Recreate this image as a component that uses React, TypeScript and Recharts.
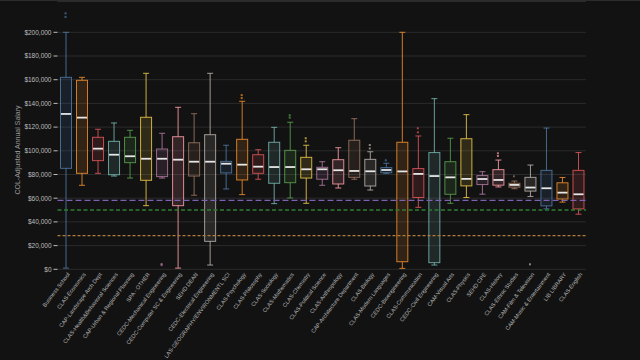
import React from 'react';
import { ComposedChart, Bar, Scatter, XAxis, YAxis, CartesianGrid, ReferenceLine } from 'recharts';

const categories = [
  'Business School',
  'CLAS-Economics',
  'CAP-Landscape Arch Dept',
  'CLAS-Health&Behavioral Sciences',
  'CAP-Urban & Regional Planning',
  'SPA - OTHER',
  'CEDC-Mechanical Engineering',
  'CEDC-Computer SC & Engineering',
  'SEHD DEAN',
  'CEDC-Electrical Engineering',
  'LAS-GEOGRAPHY/ENVIRONMENTL SCI',
  'CLAS-Psychology',
  'CLAS-Philosophy',
  'CLAS-Sociology',
  'CLAS-Mathematics',
  'CLAS-Chemistry',
  'CLAS-Political Science',
  'CLAS-Anthropology',
  'CAP-Architecture Department',
  'CLAS-Biology',
  'CLAS-Modern Languages',
  'CEDC-Bioengineering',
  'CLAS-Communication',
  'CEDC-Civil Engineering',
  'CAM-Visual Arts',
  'CLAS-Physics',
  'SEHD CPE',
  'CLAS-History',
  'CLAS-Ethnic Studies',
  'CAM-Film & Television',
  'CAM-Music & Entertainment',
  'LIB LIBRARY',
  'CLAS-English',
];

const whiskerLow = [1000, 70900, 81000, 78700, 77000, 53700, 77000, 1000, 62500, 3600, 67800, 63000, 76000, 55400, 60200, 55700, 70900, 68600, 76000, 66900, 81000, 800, 52300, 3600, 55700, 60600, 63400, 69500, 68000, 61500, 51000, 56700, 46500];
const q1 = [85200, 81000, 91700, 79800, 90000, 75100, 78200, 53700, 78700, 23600, 81300, 75400, 81000, 72600, 73100, 77000, 76000, 72000, 77600, 70300, 81500, 6400, 60600, 5600, 63300, 70400, 71500, 71000, 69300, 66000, 53500, 59300, 51000];
const median = [131100, 128000, 101800, 96700, 95400, 93300, 93300, 92500, 90800, 90800, 89100, 88300, 86600, 86300, 86300, 84400, 84400, 83600, 83000, 82700, 83800, 82600, 80500, 78700, 77600, 76300, 76200, 75400, 71200, 69000, 68400, 64700, 63300];
const q3 = [162000, 159500, 111400, 108000, 111400, 128300, 101500, 111900, 106800, 113600, 91100, 109700, 96700, 107200, 100400, 94500, 86100, 92500, 108900, 92800, 85800, 107200, 85000, 98500, 90800, 110200, 79100, 84100, 72600, 77600, 83500, 73000, 83500];
const whiskerHigh = [200000, 162000, 118200, 123500, 117300, 165400, 114800, 136700, 131300, 165400, 104700, 141800, 100900, 119800, 124100, 104700, 90800, 102600, 127100, 99200, 89500, 200000, 112500, 144000, 110600, 130500, 82400, 92200, 74500, 88000, 119200, 77500, 98500];
const outlierA: (number | null)[] = [216000, null, null, null, null, null, 4500, null, null, null, null, 147000, null, null, 130000, 110600, null, null, null, 104900, 92000, null, 119000, null, null, null, null, 97900, 78500, 4200, null, null, null];
const outlierB: (number | null)[] = [213000, null, null, null, null, null, 3500, null, null, null, null, 144500, null, null, 128000, 108000, null, null, null, 102000, null, null, 115600, null, null, null, null, 95600, null, null, null, null, null];

const yTicks = [0, 20000, 40000, 60000, 80000, 100000, 120000, 140000, 160000, 180000, 200000];
const referenceValues = [58200, 50000, 28400];

const palette = ['#4e79a7', '#f28e2b', '#e15759', '#76b7b2', '#59a14f', '#edc948', '#b07aa1', '#ff9da7', '#9c755f', '#bab0ac'];
const refStyles = [
  { stroke: '#7d62b3', dash: '6 3', w: 1.2 },
  { stroke: '#2f7d32', dash: '4 2.5', w: 1.5 },
  { stroke: '#b07d3c', dash: '3 2', w: 1.1 },
];

const data = categories.map((name, i) => ({
  name,
  range: [whiskerLow[i], whiskerHigh[i]],
  low: whiskerLow[i],
  q1: q1[i],
  median: median[i],
  q3: q3[i],
  high: whiskerHigh[i],
  outA: outlierA[i],
  outB: outlierB[i],
}));

const FONT = '"Liberation Sans", Arial, sans-serif';

const BoxShape = (props: any) => {
  const { x, y, width, height, payload, index } = props;
  if (!payload || x == null || y == null) return null;
  const color = palette[index % palette.length];
  const { low, q1: a, median: m, q3: b, high } = payload;
  const top = Math.min(y, y + height);
  const h = Math.abs(height);
  const pix = (v: number) => top + (h * (high - v)) / (high - low);
  const cx = x + width / 2;
  const cap = 3;
  return (
    <g>
      <line x1={cx} x2={cx} y1={pix(high)} y2={pix(b)} stroke={color} strokeOpacity={0.85} strokeWidth={1} />
      <line x1={cx} x2={cx} y1={pix(a)} y2={pix(low)} stroke={color} strokeOpacity={0.85} strokeWidth={1} />
      <line x1={cx - cap} x2={cx + cap} y1={pix(high)} y2={pix(high)} stroke={color} strokeOpacity={0.85} strokeWidth={1} />
      <line x1={cx - cap} x2={cx + cap} y1={pix(low)} y2={pix(low)} stroke={color} strokeOpacity={0.85} strokeWidth={1} />
      <rect x={x} y={pix(b)} width={width} height={Math.max(pix(a) - pix(b), 0.5)} fill={color} fillOpacity={0.14} stroke={color} strokeOpacity={0.85} strokeWidth={1} />
      <line x1={x + 0.5} x2={x + width - 0.5} y1={pix(m)} y2={pix(m)} stroke="#e6e6e6" strokeWidth={1.8} />
    </g>
  );
};

const makeDot = (key: string) => (props: any) => {
  const { cx, cy, payload, index } = props;
  if (!payload || payload[key] == null || !isFinite(cy)) return null;
  const color = palette[(index ?? categories.indexOf(payload.name)) % palette.length];
  return <rect x={cx - 1} y={cy - 1} width={2} height={2} fill={color} fillOpacity={0.7} />;
};

const XTick = (props: any) => {
  const { x, y, payload } = props;
  return (
    <g transform={`translate(${x + 3},${y + 4})`}>
      <text textAnchor="end" transform="rotate(-53)" fontSize={5.6} fill="#b8b8b8" fontFamily={FONT} dy="0.35em">
        {payload.value}
      </text>
    </g>
  );
};

const formatMoney = (v: number) => '$' + v.toLocaleString('en-US');

export default function App() {
  return (
    <div style={{ position: 'absolute', left: 0, top: 0, width: 640, height: 360, background: '#121212', overflow: 'hidden' }}>
      <div style={{ position: 'absolute', left: 0, top: 0, width: 640, height: 1, background: '#2c2c2c' }} />
      <ComposedChart
        width={640}
        height={360}
        data={data}
        margin={{ top: 1.5, right: 54, bottom: 0, left: 0 }}
        barCategoryGap={0}
      >
        <CartesianGrid vertical={false} stroke="#2b2b2b" strokeWidth={1} />
        <XAxis
          dataKey="name"
          type="category"
          interval={0}
          height={90.7}
          tickLine={false}
          axisLine={false}
          tickSize={0}
          tickMargin={0}
          tick={<XTick />}
        />
        <YAxis
          type="number"
          domain={[0, 226000]}
          ticks={yTicks}
          width={57.5}
          axisLine={false}
          tickSize={4}
          tickMargin={2}
          tickLine={{ stroke: '#bdbdbd' }}
          tickFormatter={formatMoney}
          tick={{ fontSize: 6.5, fill: '#bdbdbd', fontFamily: FONT }}
          label={{
            content: () => (
              <text x={20} y={150} transform="rotate(-90 20 150)" textAnchor="middle" fontSize={7} fill="#9a9a9a" fontFamily={FONT}>
                COL-Adjusted Annual Salary
              </text>
            ),
          }}
        />
        {referenceValues.map((v, i) => (
          <ReferenceLine key={v} y={v} stroke={refStyles[i].stroke} strokeDasharray={refStyles[i].dash} strokeWidth={refStyles[i].w} ifOverflow="extendDomain" />
        ))}
        <Bar dataKey="range" barSize={11} shape={<BoxShape />} isAnimationActive={false} />
        <Scatter dataKey="outA" shape={makeDot('outA')} isAnimationActive={false} />
        <Scatter dataKey="outB" shape={makeDot('outB')} isAnimationActive={false} />
      </ComposedChart>
    </div>
  );
}
